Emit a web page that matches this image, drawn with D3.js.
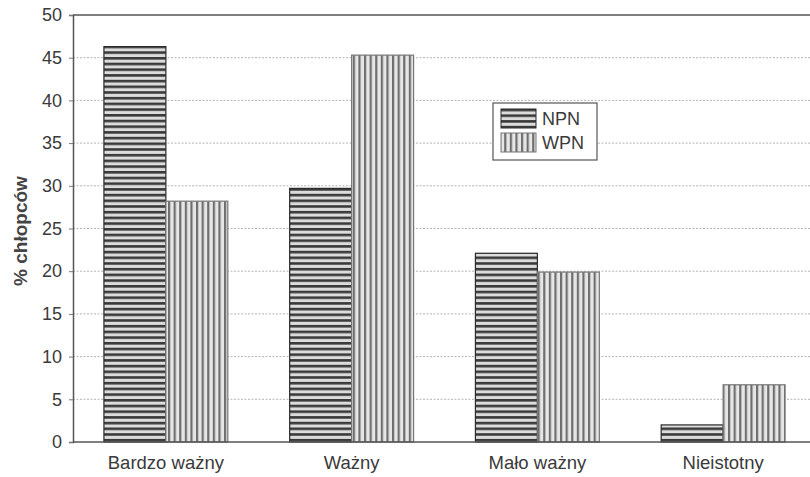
<!DOCTYPE html>
<html><head><meta charset="utf-8">
<script src="https://cdn.jsdelivr.net/npm/d3@7"></script>
<style>body{margin:0;background:#fff}svg{display:block}text{font-family:"Liberation Sans",Arial,sans-serif}</style>
</head><body>
<svg id="c" width="810" height="477"></svg>
<script>
const categories = ["Bardzo ważny", "Ważny", "Mało ważny", "Nieistotny"];
const seriesNames = ["NPN", "WPN"];
const npn = [46.3, 29.7, 22.1, 2.0];
const wpn = [28.2, 45.3, 19.9, 6.7];
const yTicks = [0, 5, 10, 15, 20, 25, 30, 35, 40, 45, 50];
const yTitle = "% chłopców";

const svg = d3.select("#c");
const m = {l: 73, t: 15, b: 442, r: 816};
const x = d3.scaleBand().domain(categories).range([m.l, m.r]).paddingInner(0.333).paddingOuter(0.1665);
const xs = d3.scaleBand().domain(seriesNames).range([0, x.bandwidth()]);
const y = d3.scaleLinear().domain([0, 50]).range([m.b, m.t]);

const defs = svg.append("defs");
const ph = defs.append("pattern").attr("id", "ph").attr("patternUnits", "userSpaceOnUse").attr("width", 8).attr("height", 5.7);
ph.append("rect").attr("width", 8).attr("height", 5.7).attr("fill", "#dcdcdc");
ph.append("rect").attr("y", 0).attr("width", 8).attr("height", 2.6).attr("fill", "#3a3a3a");
const pv = defs.append("pattern").attr("id", "pv").attr("patternUnits", "userSpaceOnUse").attr("width", 5.6).attr("height", 8);
pv.append("rect").attr("width", 5.6).attr("height", 8).attr("fill", "#e6e6e6");
pv.append("rect").attr("x", 0).attr("width", 2.2).attr("height", 8).attr("fill", "#6e6e6e");

// grid
svg.append("g").selectAll("line").data(yTicks.filter(d => d > 0 && d < 50)).join("line")
  .attr("x1", m.l).attr("x2", 810).attr("y1", d => y(d)).attr("y2", d => y(d))
  .attr("stroke", "#b4b4b4").attr("stroke-width", 1).attr("stroke-dasharray", "2,1.5");

// bars
const data = [];
categories.forEach((c, i) => {
  data.push({c, s: "NPN", v: npn[i]});
  data.push({c, s: "WPN", v: wpn[i]});
});
svg.append("g").selectAll("rect").data(data).join("rect")
  .attr("x", d => x(d.c) + xs(d.s))
  .attr("y", d => y(d.v))
  .attr("width", xs.bandwidth())
  .attr("height", d => y(0) - y(d.v))
  .attr("fill", d => d.s === "NPN" ? "url(#ph)" : "url(#pv)")
  .attr("stroke", d => d.s === "NPN" ? "#2a2a2a" : "#777")
  .attr("stroke-width", 1.2);

// axes
const ya = svg.append("g").attr("transform", `translate(${m.l},0)`)
  .call(d3.axisLeft(y).tickValues(yTicks).tickSize(4).tickPadding(7));
ya.select(".domain").attr("stroke", "#555").attr("stroke-width", 1.5);
ya.selectAll(".tick line").attr("stroke", "#777");
ya.selectAll("text").attr("font-size", 18).attr("fill", "#3a3a3a");

const xa = svg.append("g").attr("transform", `translate(0,${m.b})`)
  .call(d3.axisBottom(x).tickSize(0).tickPadding(14));
xa.select(".domain").remove();
xa.selectAll("text").attr("font-size", 18.5).attr("fill", "#3a3a3a");
svg.append("line").attr("x1", m.l).attr("x2", 810).attr("y1", m.b).attr("y2", m.b).attr("stroke", "#555").attr("stroke-width", 1.5);
svg.append("line").attr("x1", m.l).attr("x2", 810).attr("y1", m.t).attr("y2", m.t).attr("stroke", "#555").attr("stroke-width", 1.5);

svg.append("text").attr("transform", `translate(27,${231}) rotate(-90)`)
  .attr("text-anchor", "middle").attr("font-size", 19).attr("font-weight", "bold").attr("fill", "#444").text(yTitle);

// legend
const lg = svg.append("g").attr("transform", "translate(493,103)");
lg.append("rect").attr("width", 104).attr("height", 57).attr("fill", "#fff").attr("stroke", "#555").attr("stroke-width", 1.2);
seriesNames.forEach((s, i) => {
  lg.append("rect").attr("x", 8).attr("y", 6 + i * 24).attr("width", 35).attr("height", 19)
    .attr("fill", i === 0 ? "url(#ph)" : "url(#pv)").attr("stroke", i === 0 ? "#2a2a2a" : "#777");
  lg.append("text").attr("x", 49).attr("y", 22 + i * 24).attr("font-size", 18).attr("fill", "#3a3a3a").text(s);
});
</script>
</body></html>
